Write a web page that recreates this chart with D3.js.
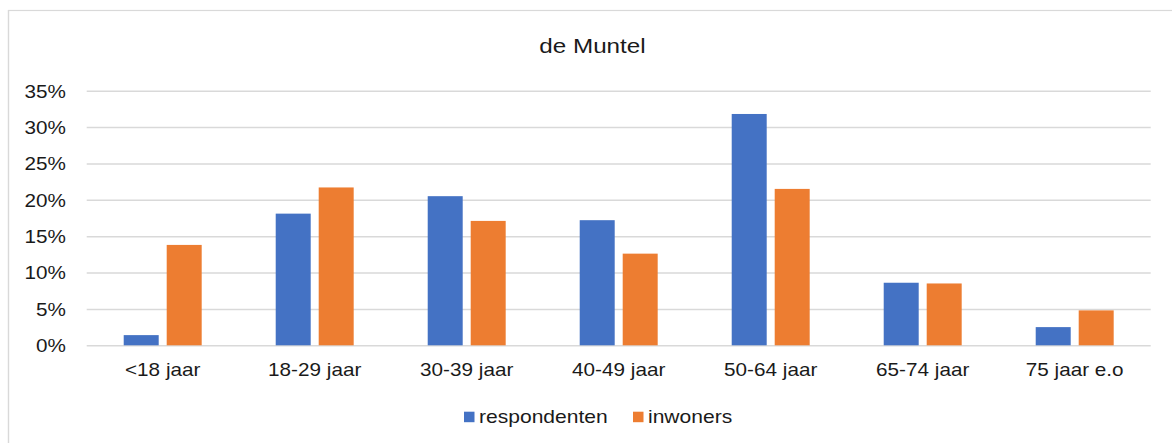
<!DOCTYPE html>
<html>
<head>
<meta charset="utf-8">
<script src="https://cdn.jsdelivr.net/npm/d3@7"></script>
<style>
  html, body { margin: 0; padding: 0; background: #fff; }
  svg { display: block; }
  text { font-family: "Liberation Sans", Arial, sans-serif; fill: #1a1a1a; }
</style>
</head>
<body>
<svg id="chart"></svg>
<script>
const categories = ['<18 jaar', '18-29 jaar', '30-39 jaar', '40-49 jaar', '50-64 jaar', '65-74 jaar', '75 jaar e.o'],
series = ['respondenten', 'inwoners'],
respondenten = [1.4, 18.1, 20.5, 17.2, 31.8, 8.6, 2.5],
inwoners = [13.8, 21.7, 17.1, 12.6, 21.5, 8.5, 4.8],
yTicks = [0, 5, 10, 15, 20, 25, 30, 35],
colors = ['#4472C4', '#ED7D31'];

// the reference is a horizontally stretched screenshot: draw in narrower units, stretch with the viewBox
const sx = 1.17,
outerW = 1172,
outerH = 443,
vw = outerW / sx,
px = (v) => v / sx;

const plot = {left: px(86.7), right: px(1150.7), top: 90.7, bottom: 345.3};

const svg = d3.select('#chart')
.attr('width', outerW)
.attr('height', outerH)
.attr('viewBox', `0 0 ${vw} ${outerH}`)
.attr('preserveAspectRatio', 'none');

svg.append('rect')
.attr('x', px(8.5))
.attr('y', 10.5)
.attr('width', vw)
.attr('height', outerH)
.attr('fill', '#fff')
.attr('stroke', '#d9d9d9')
.attr('stroke-width', 1.2);

const x0 = d3.scaleBand()
.domain(categories)
.range([plot.left, plot.right])
.paddingInner(0.487)
.paddingOuter(0.2435);

const x1 = d3.scaleBand()
.domain(series)
.range([0, x0.bandwidth()])
.paddingInner(0.186);

const y = d3.scaleLinear()
.domain([0, 35])
.range([plot.bottom, plot.top]);

// gridlines + y labels
const yAxis = svg.append('g')
.attr('transform', `translate(${plot.left},0)`)
.call(d3.axisLeft(y).tickValues(yTicks).tickSize(-(plot.right - plot.left)).tickPadding(px(20.7)).tickFormat((d) => `${d}%`));

yAxis.select('.domain').remove();
yAxis.selectAll('line').attr('stroke', '#d9d9d9').attr('stroke-width', 1.4);
yAxis.selectAll('text')
.attr('font-size', 17.7)
.attr('dy', '0.36em')
.style('fill', '#1a1a1a');

// bars
const rows = categories.map((c, i) => ({cat: c, vals: [respondenten[i], inwoners[i]]}));

svg.append('g')
.selectAll('g')
.data(rows)
.enter().append('g')
.attr('transform', (d) => `translate(${x0(d.cat)},0)`)
.selectAll('rect')
.data((d) => d.vals.map((v, j) => ({s: series[j], v: v, j: j})))
.enter().append('rect')
.attr('x', (d) => x1(d.s))
.attr('width', x1.bandwidth())
.attr('y', (d) => y(d.v))
.attr('height', (d) => y(0) - y(d.v))
.attr('fill', (d) => colors[d.j]);

// x labels
const xAxis = svg.append('g')
.attr('transform', `translate(0,${plot.bottom})`)
.call(d3.axisBottom(x0).tickSize(0).tickPadding(0));

xAxis.select('.domain').remove();
xAxis.selectAll('text')
.attr('font-size', 17.7)
.attr('y', 30.7)
.attr('dy', 0)
.style('fill', '#1a1a1a');

// title
svg.append('text')
.attr('x', px(592.5))
.attr('y', 53)
.attr('text-anchor', 'middle')
.attr('font-size', 20.7)
.text('de Muntel');

// legend
const legendX = [px(464), px(633)];

const legend = svg.append('g')
.selectAll('g')
.data(series)
.enter().append('g')
.attr('transform', (d, i) => `translate(${legendX[i]},0)`);

legend.append('rect')
.attr('y', 411.7)
.attr('width', px(10.5))
.attr('height', 10.5)
.attr('fill', (d, i) => colors[i]);

legend.append('text')
.attr('x', px(15))
.attr('y', 423.3)
.attr('font-size', 18)
.text((d) => d);
</script>
</body>
</html>
